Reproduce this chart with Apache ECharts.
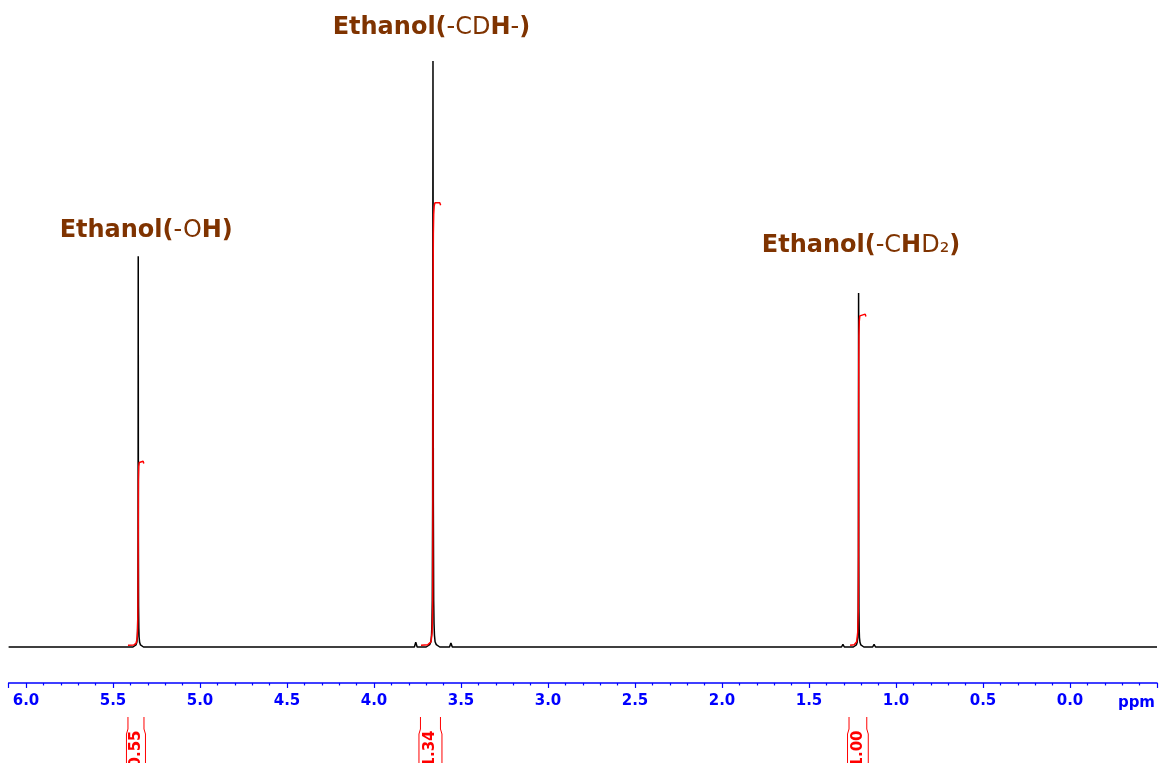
<!DOCTYPE html>
<html>
<head>
<meta charset="utf-8">
<script src="https://cdn.jsdelivr.net/npm/echarts@6/dist/echarts.min.js"></script>
<style>
html,body{margin:0;padding:0;background:#fff;}
#chart{width:1159px;height:763px;}
</style>
</head>
<body>
<div id="chart"></div>
<script>
// ---- Data (ppm, intensity in % of tallest peak) ----
const baselineEnds = [[6.10, 0], [-0.50, 0]];

const peakOH = [[5.385,0],[5.375,0.1],[5.368,0.35],[5.363,0.8],[5.360,1.7],[5.3585,3.2],[5.357,7],[5.356,18],[5.355,66.7],[5.354,18],[5.353,7],[5.3515,3.2],[5.350,1.7],[5.347,0.8],[5.342,0.35],[5.335,0.1],[5.325,0]];

const peakCDH = [[3.700,0],[3.690,0.1],[3.680,0.4],[3.673,0.9],[3.6695,2],[3.667,4],[3.665,8],[3.663,25],[3.661,100],[3.659,25],[3.657,8],[3.655,4],[3.6525,2],[3.649,0.9],[3.642,0.4],[3.632,0.1],[3.622,0]];

const peakCHD2 = [[1.245,0],[1.235,0.1],[1.228,0.35],[1.223,0.8],[1.220,1.6],[1.2185,3],[1.217,6.5],[1.216,16],[1.215,60.4],[1.214,16],[1.213,6.5],[1.2115,3],[1.210,1.6],[1.207,0.8],[1.202,0.35],[1.195,0.1],[1.185,0]];

const minorPeaks = [
  [4.608,0],[4.600,0.15],[4.592,0],
  [3.768,0],[3.760,0.8],[3.752,0],
  [3.566,0],[3.558,0.7],[3.550,0],
  [3.428,0],[3.420,0.18],[3.412,0],
  [2.608,0],[2.600,0.15],[2.592,0],
  [1.968,0],[1.960,0.15],[1.952,0],
  [1.313,0],[1.305,0.45],[1.297,0],
  [1.134,0],[1.126,0.45],[1.118,0],
  [0.998,0],[0.990,0.15],[0.982,0]
];

const integralOH = [[5.414,0.3],[5.380,0.35],[5.368,0.6],[5.362,1.3],[5.359,2.6],[5.357,5.5],[5.356,10],[5.3555,15],[5.355,20],[5.3545,25],[5.354,28.5],[5.352,30.8],[5.349,31.5],[5.345,31.7],[5.327,31.7],[5.323,31.3]];
const integralCDH = [[3.730,0.3],[3.690,0.4],[3.672,0.9],[3.666,2.5],[3.663,6],[3.662,12],[3.6615,22],[3.661,38],[3.6605,54],[3.660,64],[3.659,70.5],[3.657,73.8],[3.654,75.3],[3.650,75.8],[3.622,75.8],[3.617,75.4]];
const integralCHD2 = [[1.264,0.3],[1.240,0.4],[1.226,0.9],[1.220,2.5],[1.217,6],[1.216,11],[1.2155,17],[1.215,28],[1.2145,40],[1.214,48],[1.213,53],[1.211,55.6],[1.208,56.5],[1.204,56.8],[1.177,56.8],[1.173,56.4]];

const integralRanges = [[5.414, 5.322], [3.733, 3.618], [1.270, 1.168]];
const integralValues = ['0.55', '1.34', '1.00'];

const annotPpm = [5.309, 3.670, 1.201];
const annotLevel = [71.0, 105.7, 68.5];
const annotRich = [
  '{b|Ethanol(}{n|-O}{b|H)}',
  '{b|Ethanol(}{n|-CD}{b|H}{n|-}{b|)}',
  '{b|Ethanol(}{n|-C}{b|H}{n|D₂}{b|)}'
];

const tickValues = [6.0, 5.5, 5.0, 4.5, 4.0, 3.5, 3.0, 2.5, 2.0, 1.5, 1.0, 0.5, 0.0];
const axisUnit = 'ppm';

// ---- Build ----
const spectrum = baselineEnds.concat(peakOH, peakCDH, peakCHD2, minorPeaks)
  .sort((a, b) => b[0] - a[0]);

const FONT = '"DejaVu Sans", "Noto Sans", sans-serif';
const chart = echarts.init(document.getElementById('chart'), null, {renderer: 'canvas'});

function integralSeries(d) {
  return {
    type: 'line', data: d, showSymbol: false, symbol: 'none', z: 5,
    lineStyle: {color: '#ff0000', width: 1.5}, clip: false, silent: true
  };
}

chart.setOption({
  animation: false,
  backgroundColor: '#ffffff',
  grid: {left: 8.6, right: 2, top: 55.14, bottom: 110.14, containLabel: false},
  xAxis: {
    type: 'value', inverse: true, min: -0.5, max: 6.1, interval: 0.5,
    offset: 30.1,
    axisLine: {show: true, onZero: false, lineStyle: {color: '#0000ff', width: 1.5}},
    axisTick: {show: true, length: 5, lineStyle: {color: '#0000ff', width: 1.2}},
    minorTick: {show: true, splitNumber: 5, length: 2.5, lineStyle: {color: '#0000ff', width: 1.2}},
    splitLine: {show: false}, minorSplitLine: {show: false},
    axisLabel: {
      color: '#0000ff', fontWeight: 'bold', fontSize: 15, fontFamily: FONT, margin: 11,
      showMaxLabel: false, showMinLabel: false,
      formatter: v => {
        const m = tickValues.find(t => Math.abs(t - v) < 1e-6);
        return m === undefined ? '' : m.toFixed(1);
      }
    }
  },
  yAxis: {type: 'value', min: -1, max: 101, show: false},
  series: [
    {
      type: 'line', data: spectrum, showSymbol: false, symbol: 'none', z: 3,
      lineStyle: {color: '#000000', width: 1.5}, silent: true
    },
    integralSeries(integralOH),
    integralSeries(integralCDH),
    integralSeries(integralCHD2)
  ]
});

const gfx = [];
// Peak annotations
const rich = {
  b: {fontFamily: FONT, fontWeight: 'bold', fontSize: 24, fill: '#7f3300'},
  n: {fontFamily: FONT, fontWeight: 'normal', fontSize: 24, fill: '#7f3300'}
};
annotPpm.forEach((p, i) => {
  const x = chart.convertToPixel({xAxisIndex: 0}, p);
  const y = chart.convertToPixel({yAxisIndex: 0}, annotLevel[i]);
  gfx.push({
    type: 'text', x: x, y: y, z: 10, silent: true,
    style: {text: annotRich[i], rich: rich, align: 'center', verticalAlign: 'middle',
      fill: '#7f3300', font: 'bold 24px ' + FONT}
  });
});
// Integral brackets below axis
integralRanges.forEach((r, i) => {
  const xa = chart.convertToPixel({xAxisIndex: 0}, r[0]);
  const xb = chart.convertToPixel({xAxisIndex: 0}, r[1]);
  const ls = {stroke: '#ff0000', lineWidth: 1, fill: null};
  gfx.push({type: 'polyline', silent: true, shape: {points: [[xa, 717], [xa, 729], [xa - 1.5, 734], [xa - 1.5, 764]]}, style: ls});
  gfx.push({type: 'polyline', silent: true, shape: {points: [[xb, 717], [xb, 729], [xb + 1.5, 734], [xb + 1.5, 764]]}, style: ls});
  gfx.push({
    type: 'text', x: (xa + xb) / 2, y: 749, rotation: Math.PI / 2, silent: true,
    style: {text: integralValues[i], fill: '#ff0000', font: 'bold 15px ' + FONT,
      align: 'center', verticalAlign: 'middle'}
  });
});
// unit label
gfx.push({
  type: 'text', x: 1155, y: 703, silent: true,
  style: {text: axisUnit, fill: '#0000ff', font: 'bold 15px ' + FONT, align: 'right', verticalAlign: 'middle'}
});
chart.setOption({graphic: gfx});
</script>
</body>
</html>
